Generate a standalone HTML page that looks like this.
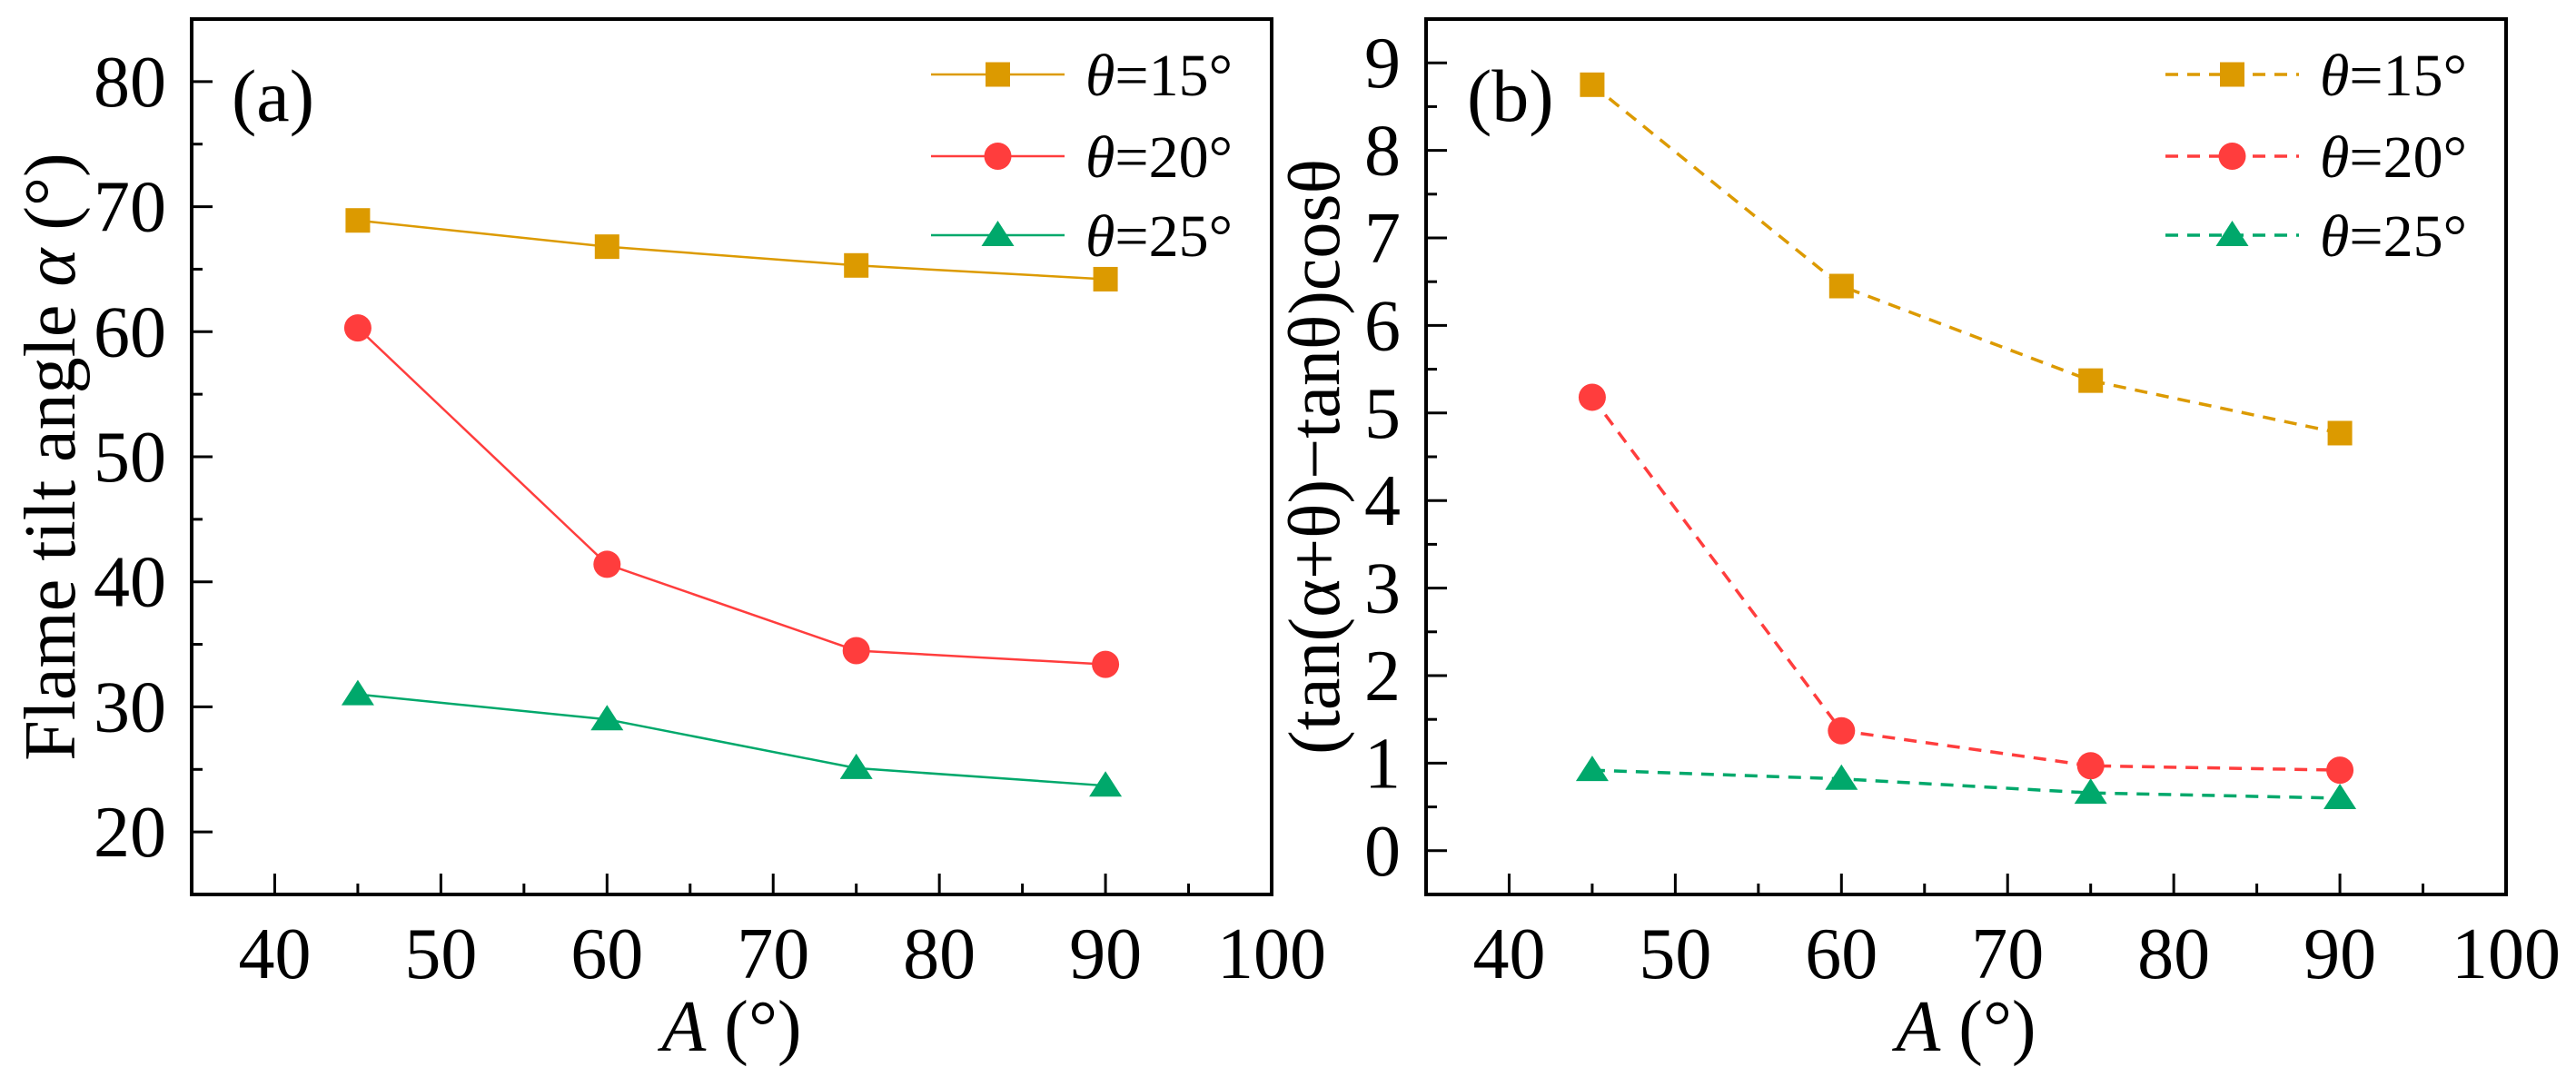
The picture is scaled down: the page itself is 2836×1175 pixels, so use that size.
<!DOCTYPE html>
<html><head><meta charset="utf-8"><style>
html,body{margin:0;padding:0;background:#fff;}
svg{display:block;font-family:"Liberation Serif",serif;}
</style></head><body>
<svg id="chart" width="2836" height="1175" viewBox="0 0 2836 1175" xmlns="http://www.w3.org/2000/svg"></svg>
<script>
const xValues = [45, 60, 75, 90];
const seriesNames = ["θ=15°", "θ=20°", "θ=25°"];
const tiltA15 = [68.9, 66.8, 65.3, 64.2];
const tiltA20 = [60.3, 41.4, 34.5, 33.4];
const tiltA25 = [31.0, 29.0, 25.1, 23.7];
const ratioB15 = [8.75, 6.45, 5.37, 4.77];
const ratioB20 = [5.18, 1.37, 0.97, 0.92];
const ratioB25 = [0.92, 0.82, 0.66, 0.60];
const xTicks = [40, 50, 60, 70, 80, 90, 100];
const yTicksA = [20, 30, 40, 50, 60, 70, 80];
const yTicksB = [0, 1, 2, 3, 4, 5, 6, 7, 8, 9];

const NS = "http://www.w3.org/2000/svg";
const svg = document.getElementById("chart");
const colors = ["#DC9A00", "#FF3D3D", "#00A86B"];
const markers = ["square", "circle", "triangle"];

function mk(tag, attrs, parent) {
  const e = document.createElementNS(NS, tag);
  for (const k in attrs) e.setAttribute(k, attrs[k]);
  (parent || svg).appendChild(e);
  return e;
}

function marker(g, type, cx, cy, color) {
  let m;
  if (type === "square") m = mk("rect", {x: cx-13.5, y: cy-13.5, width: 27, height: 27, fill: color}, g);
  else if (type === "circle") m = mk("circle", {cx: cx, cy: cy, r: 15, fill: color}, g);
  else m = mk("polygon", {points: `${cx},${cy-16} ${cx+18},${cy+12} ${cx-18},${cy+12}`, fill: color}, g);
  
  
}

function panel(opt) {
  const L = opt.left, R = opt.left + 1189, T = 21, B = 985;
  const xs = v => L + (v - 35) / 65 * (R - L);
  const ys = v => B - (v - opt.ymin) / (opt.ymax - opt.ymin) * (B - T);
  const g = mk("g", {});
  
  
  opt.series.forEach((vals, i) => {
    const pts = vals.map((v, j) => `${xs(xValues[j])},${ys(v)}`).join(" ");
    const pl = mk("polyline", {points: pts, fill: "none", stroke: colors[i], "stroke-width": opt.dashed ? 3.5 : 2.5, "stroke-dasharray": opt.dashed ? "14 10" : "none"}, g);
    
    
    vals.forEach((v, j) => marker(g, markers[i], xs(xValues[j]), ys(v), colors[i]));
  });
  const box = mk("rect", {x: L, y: T, width: R-L, height: B-T, fill: "none", stroke: "#000", "stroke-width": 4}, g);
  
  
  xTicks.forEach(v => {
    const x = xs(v);
    mk("line", {x1: x, y1: B, x2: x, y2: B-23, stroke: "#000", "stroke-width": 3}, g);
    const t = mk("text", {x: x, y: 1077, "font-size": 80, "text-anchor": "middle"}, g);
    t.textContent = v;
    
    
    if (v < 100) { const xm = xs(v+5); mk("line", {x1: xm, y1: B, x2: xm, y2: B-12, stroke: "#000", "stroke-width": 3}, g); }
  });
  opt.yticks.forEach((v, i) => {
    const y = ys(v);
    mk("line", {x1: L, y1: y, x2: L+23, y2: y, stroke: "#000", "stroke-width": 3}, g);
    const t = mk("text", {x: L-28, y: y+27, "font-size": 80, "text-anchor": "end"}, g);
    t.textContent = v;
    
    
    const ym = ys(v + opt.minor);
    if (ym > T) mk("line", {x1: L, y1: ym, x2: L+12, y2: ym, stroke: "#000", "stroke-width": 3}, g);
    if (i === 0) { const y0 = ys(v - opt.minor); if (y0 < B) mk("line", {x1: L, y1: y0, x2: L+12, y2: y0, stroke: "#000", "stroke-width": 3}, g); }
  });
  const pl = mk("text", {x: opt.labelX, y: 133, "font-size": 82}, g);
  pl.textContent = opt.label;
  
  
  const xt = mk("text", {x: (L+R)/2, y: 1157, "font-size": 80, "text-anchor": "middle"}, g);
  xt.innerHTML = '<tspan font-style="italic">A</tspan> (°)';
  
  
  const yt = mk("text", {x: 0, y: 0, "font-size": 80, "text-anchor": "middle", transform: `translate(${opt.ytitleX},${(T+B)/2}) rotate(-90)`}, g);
  yt.innerHTML = opt.ytitle;
  
  
  const lx1 = R - 375, lx2 = R - 228, rows = [82, 172, 259];
  seriesNames.forEach((n, i) => {
    const lg = mk("g", {}, g);
    
    
    mk("line", {x1: lx1, y1: rows[i], x2: lx2, y2: rows[i], stroke: colors[i], "stroke-width": opt.dashed ? 3.5 : 2.5, "stroke-dasharray": opt.dashed ? "14 10" : "none"}, lg);
    marker(lg, markers[i], (lx1+lx2)/2, rows[i], colors[i]);
    const tx = mk("text", {x: R - 205, y: rows[i] + 23, "font-size": 66}, lg);
    tx.innerHTML = '<tspan font-style="italic">θ</tspan>=' + n.slice(2);
  });
}

panel({name: "panel-a", left: 211, ymin: 15, ymax: 85, yticks: yTicksA, minor: 5,
  series: [tiltA15, tiltA20, tiltA25], dashed: false, label: "(a)", labelX: 255,
  ytitle: 'Flame tilt angle <tspan font-style="italic">α</tspan> (°)', ytitleX: 82});
panel({name: "panel-b", left: 1570, ymin: -0.5, ymax: 9.5, yticks: yTicksB, minor: 0.5,
  series: [ratioB15, ratioB20, ratioB25], dashed: true, label: "(b)", labelX: 1615,
  ytitle: '(tan(α+θ)−tanθ)cosθ', ytitleX: 1474});
</script>
</body></html>
